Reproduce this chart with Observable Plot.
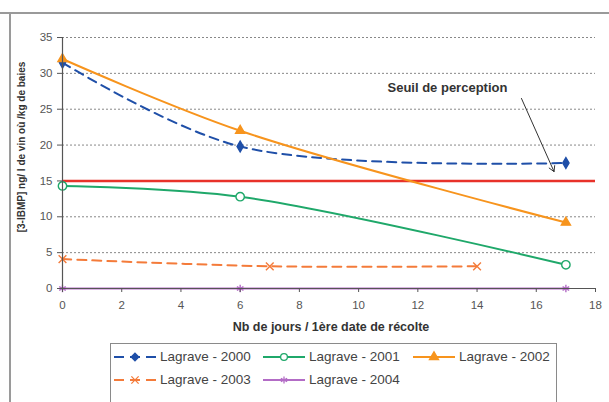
<!DOCTYPE html>
<html><head><meta charset="utf-8">
<script src="https://cdn.jsdelivr.net/npm/d3@7"></script>
<script src="https://cdn.jsdelivr.net/npm/@observablehq/plot@0.6"></script>
<style>
body{margin:0;background:#fff;font-family:"Liberation Sans",Arial,sans-serif;}
#wrap{position:relative;width:609px;height:402px;overflow:hidden;}
#chart{position:absolute;left:0;top:0;}
.bl{position:absolute;left:9px;top:13px;width:2px;height:400px;background:#9a9a9a;}
.bt{position:absolute;left:0;top:12px;width:609px;height:2px;background:#9a9a9a;}
#legend{position:absolute;left:110px;top:343px;width:445px;height:70px;border:1px solid #8a8a8a;background:#fff;}
.item{position:absolute;display:flex;align-items:center;font-size:13.5px;color:#444;}
.item svg{margin-right:3px;}
</style></head>
<body><div id="wrap"><div class="bt"></div><div class="bl"></div><div id="chart"></div><div id="legend"></div></div>
<script>
const seriesNames = ["Lagrave - 2000","Lagrave - 2001","Lagrave - 2002","Lagrave - 2003","Lagrave - 2004"];
const x2000 = [0, 6, 17], y2000 = [31.5, 19.8, 17.5];
const x2001 = [0, 6, 17], y2001 = [14.3, 12.8, 3.3];
const x2002 = [0, 6, 17], y2002 = [32.0, 22.0, 9.2];
const x2003 = [0, 7, 14], y2003 = [4.1, 3.1, 3.1];
const x2004 = [0, 6, 17], y2004 = [0, 0, 0];
const seuil = 15;
const xTicks = [0,2,4,6,8,10,12,14,16,18];
const yTicks = [0,5,10,15,20,25,30,35];
const annotText = "Seuil de perception";
const annotPos = [13, 28.0];
const arrowFrom = [15.5, 26.5], arrowTo = [16.6, 16.3];

const colors = ["#1f4fa8","#1fa86a","#f7941d","#f47b3a","#b36cc6"];
const dashes = ["9,6", null, null, "9,6", null];
const symbols = ["diamond","circle","triangle","times","asterisk"];
const fills = [colors[0], "white", colors[2], "none", "none"];
const radii = [3.3, 4.2, 3.4, 3.6, 3.6];
const xs = [x2000,x2001,x2002,x2003,x2004], ys = [y2000,y2001,y2002,y2003,y2004];
const data = seriesNames.map((n,i)=>xs[i].map((x,j)=>({s:n,x,y:ys[i][j]})));

const marks = [
  Plot.ruleY(yTicks.filter(d=>d>0), {stroke:"#888", strokeDasharray:"2,2", strokeWidth:1}),
  Plot.ruleY([seuil], {stroke:"#e8322a", strokeWidth:2.5}),
];
data.forEach((d,i)=>{
  marks.push(Plot.line(d, {x:"x", y:"y", stroke:colors[i], strokeWidth: 2, curve:"catmull-rom", strokeDasharray: dashes[i]}));
});
data.forEach((d,i)=>{
  marks.push(Plot.dot(d, {x:"x", y:"y", symbol:()=>symbols[i], stroke:colors[i], fill:fills[i], r: radii[i], strokeWidth: 1.4}));
});
marks.push(
  Plot.ruleX([0], {stroke:"#555", strokeWidth:1.2}),
  Plot.ruleY([0], {stroke:"#555", strokeWidth:1.2}),
  Plot.axisX({ticks:xTicks, tickSize:4, tickPadding:8, stroke:"#555", fill:"#555", fontSize:11.5, label:null}),
  Plot.axisY({ticks:yTicks, tickSize:5, tickPadding:5, stroke:"#555", fill:"#555", fontSize:11.5, label:null}),
  Plot.text([annotText], {x:annotPos[0], y:annotPos[1], text:d=>d, fontWeight:"bold", fontSize:13, fill:"#333"}),
  Plot.arrow([0], {x1:arrowFrom[0], y1:arrowFrom[1], x2:arrowTo[0], y2:arrowTo[1], stroke:"#333", strokeWidth:1, headLength:9})
);

const plot = Plot.plot({
  width:609, height:342,
  marginLeft:62, marginRight:14, marginTop:37, marginBottom:54,
  x:{type:"linear", domain:[0,18]},
  y:{type:"linear", domain:[0,35]},
  style:{fontFamily:"Liberation Sans, Arial, sans-serif", background:"transparent"},
  marks
});
// axis titles
const svg = d3.select(plot);
svg.append("text").attr("x", 331).attr("y", 331).attr("text-anchor","middle")
  .attr("font-size","12.5px").attr("font-weight","bold").attr("fill","#333")
  .text("Nb de jours / 1ère date de récolte");
svg.append("text").attr("transform","translate(25,147) rotate(-90)").attr("text-anchor","middle")
  .attr("font-size","10px").attr("font-weight","bold").attr("fill","#333")
  .text("[3-IBMP] ng/ l de vin où /kg de baies");
document.getElementById("chart").appendChild(plot);

// legend
const lg = document.getElementById("legend");
const pos = [[2,5],[151,5],[301,5],[2,28],[151,28]];
seriesNames.forEach((n,i)=>{
  const div = document.createElement("div");
  div.className="item";
  div.style.left=pos[i][0]+"px"; div.style.top=pos[i][1]+"px";
  const s = d3.create("svg").attr("width",44).attr("height",14);
  s.append("line").attr("x1",1).attr("x2",43).attr("y1",7).attr("y2",7).attr("stroke",colors[i]).attr("stroke-width",2)
    .attr("stroke-dasharray", dashes[i] ? "10,6" : null);
  const symMap = {diamond:d3.symbolDiamond2, circle:d3.symbolCircle, triangle:d3.symbolTriangle, times:d3.symbolTimes, asterisk:d3.symbolAsterisk};
  s.append("path").attr("transform","translate(22,7)").attr("d", d3.symbol(symMap[symbols[i]], 36)())
    .attr("stroke",colors[i]).attr("fill",fills[i]).attr("stroke-width",1.3);
  div.appendChild(s.node());
  const t = document.createElement("span"); t.textContent=n; div.appendChild(t);
  lg.appendChild(div);
});
</script></body></html>
